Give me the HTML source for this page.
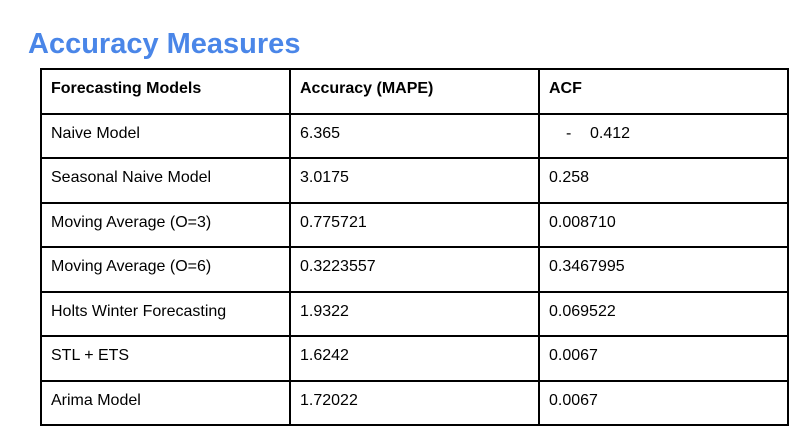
<!DOCTYPE html>
<html><head><meta charset="utf-8"><style>
body{margin:0;width:808px;height:432px;background:#fff;position:relative;overflow:hidden;font-family:"Liberation Sans",Arial,sans-serif;}
h1{position:absolute;left:28px;top:27px;margin:0;font-size:29px;line-height:34px;font-weight:bold;color:#4a86e8;}
table{position:absolute;left:40px;top:68px;border-collapse:collapse;table-layout:fixed;width:748px;}
col{width:249px;}
tr{height:44.5px;}
td,th{border:2px solid #000;padding:0 0 0 9px;vertical-align:top;text-align:left;font-size:16px;line-height:18px;color:#000;overflow:hidden;white-space:nowrap;}
td>span,th>span{display:block;padding-top:10px;}
th{font-weight:bold;}
.d{display:inline-block;margin-left:17px;width:24px;}
</style></head><body>
<h1>Accuracy Measures</h1>
<table>
<colgroup><col><col><col></colgroup>
<tr><th><span>Forecasting Models</span></th><th><span>Accuracy (MAPE)</span></th><th><span>ACF</span></th></tr>
<tr><td><span>Naive Model</span></td><td><span>6.365</span></td><td><span><i class="d" style="font-style:normal">-</i>0.412</span></td></tr>
<tr><td><span>Seasonal Naive Model</span></td><td><span>3.0175</span></td><td><span>0.258</span></td></tr>
<tr><td><span>Moving Average (O=3)</span></td><td><span>0.775721</span></td><td><span>0.008710</span></td></tr>
<tr><td><span>Moving Average (O=6)</span></td><td><span>0.3223557</span></td><td><span>0.3467995</span></td></tr>
<tr><td><span>Holts Winter Forecasting</span></td><td><span>1.9322</span></td><td><span>0.069522</span></td></tr>
<tr><td><span>STL + ETS</span></td><td><span>1.6242</span></td><td><span>0.0067</span></td></tr>
<tr><td><span>Arima Model</span></td><td><span>1.72022</span></td><td><span>0.0067</span></td></tr>
</table>
</body></html>
